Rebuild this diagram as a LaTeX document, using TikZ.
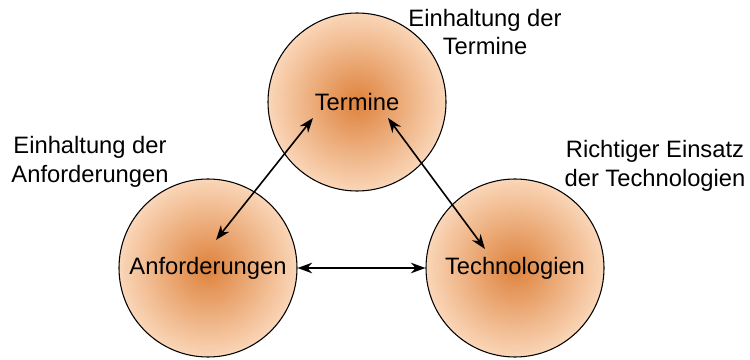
\documentclass[tikz,border=0pt]{standalone}
\usepackage{fontspec}
\setmainfont{Liberation Sans}
\usetikzlibrary{arrows.meta}
\definecolor{ballcore}{RGB}{222,130,60}
\definecolor{ballrim}{RGB}{250,214,184}
\tikzset{
  ball/.style={circle, draw=black, line width=0.8pt, minimum size=133.5pt,
    inner sep=0pt, inner color=ballcore, outer color=ballrim,
    font=\fontsize{17.8pt}{21.5pt}\selectfont},
  note/.style={align=center, font=\fontsize{17.8pt}{21.7pt}\selectfont, inner sep=0pt},
  link/.style={{Stealth[length=11pt,width=8pt]}-{Stealth[length=11pt,width=8pt]}, line width=1.2pt}
}
\begin{document}
\begin{tikzpicture}[x=0.75pt,y=-0.75pt]
  \useasboundingbox (0,0) rectangle (750,360);
  % the three goals
  \node[ball] (term) at (357,102) {Termine};
  \node[ball] (anf)  at (208,268) {Anforderungen};
  \node[ball] (tech) at (515,268) {Technologien};
  % free ends of the diagonal links, inside the circles
  \coordinate (t1) at (313,118);
  \coordinate (a1) at (216,240);
  \coordinate (t2) at (388,118);
  \coordinate (g2) at (485,249);
  \draw[link] (a1) -- (t1);
  \draw[link] (t2) -- (g2);
  \draw[link] (anf.east) -- (tech.west);
  % captions
  \node[note] (nterm) at (485,32) {Einhaltung der\\Termine};
  \node[note] (nanf)  at (90,162) {Einhaltung der\\Anforderungen};
  \node[note] (ntech) at (655,166) {Richtiger Einsatz\\der Technologien};
\end{tikzpicture}
\end{document}
